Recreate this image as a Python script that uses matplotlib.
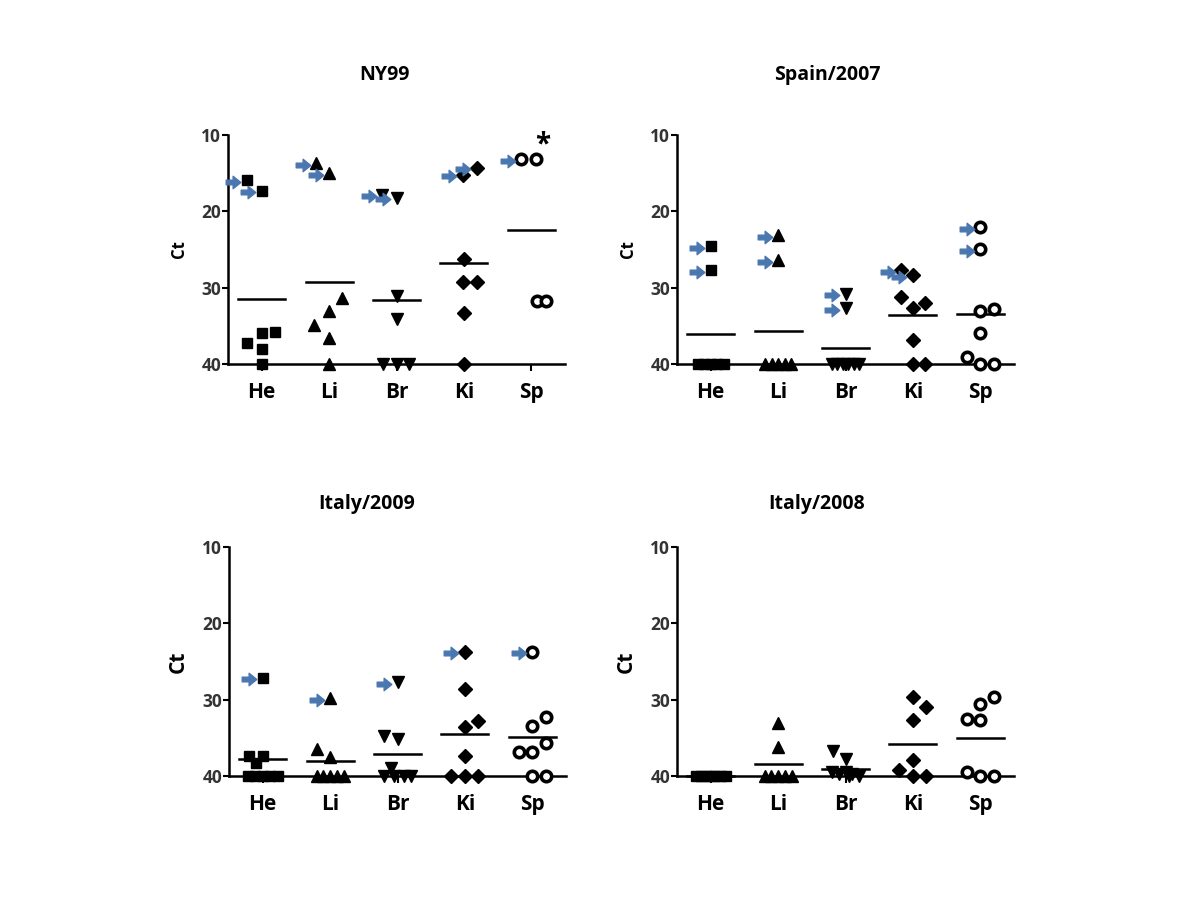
import numpy as np
import matplotlib
matplotlib.use("Agg")
import matplotlib.pyplot as plt
from matplotlib.path import Path

plt.rcParams['font.family'] = ['Open Sans', 'DejaVu Sans']
plt.rcParams['font.weight'] = 'bold'

organs = ["He", "Li", "Br", "Ki", "Sp"]
markers = ["s", "^", "v", "D", "o"]

# Ct values per organ (40 = not detected), horizontal jitter, arrowed points
ny99_vals = [[15.9, 17.3, 35.8, 35.9, 37.2, 38.0, 40.0],
             [13.7, 15.0, 31.4, 33.0, 34.9, 36.6, 40.0],
             [17.8, 18.2, 31.1, 34.1, 40.0, 40.0, 40.0],
             [15.2, 14.3, 26.3, 29.3, 29.3, 33.3, 40.0],
             [13.2, 13.2, 31.7, 31.7]]
ny99_dx = [[-0.22, 0.0, 0.2, 0.0, -0.22, 0.0, 0.0],
           [-0.19, 0.0, 0.19, 0.0, -0.22, 0.0, 0.0],
           [-0.21, 0.0, 0.0, 0.0, -0.2, 0.0, 0.19],
           [-0.02, 0.19, 0.0, -0.02, 0.19, 0.0, 0.0],
           [-0.15, 0.07, 0.09, 0.22]]
ny99_arrows = [[0, 1], [0, 1], [0, 1], [0, 1], [0]]

spain_vals = [[24.6, 27.7, 40, 40, 40, 40, 40],
              [23.1, 26.4, 40, 40, 40, 40, 40],
              [30.8, 32.7, 40, 40, 40, 40, 40, 40],
              [27.7, 28.4, 31.2, 32.6, 32.0, 36.9, 40, 40],
              [22.1, 25.0, 33.0, 32.8, 35.9, 39.1, 40, 40]]
spain_dx = [[0, 0, -0.19, -0.095, 0, 0.095, 0.19],
            [0, 0, -0.19, -0.095, 0, 0.095, 0.19],
            [0, 0, -0.2, -0.12, -0.04, 0.04, 0.12, 0.2],
            [-0.17, 0.0, -0.17, 0.0, 0.18, 0.0, 0.0, 0.18],
            [0, 0, 0, 0.2, 0, -0.19, 0, 0.2]]
spain_arrows = [[0, 1], [0, 1], [0, 1], [0, 1], [0, 1]]

it09_vals = [[27.1, 37.4, 37.4, 38.3, 40, 40, 40, 40, 40],
             [29.8, 36.5, 37.5, 40, 40, 40, 40, 40],
             [27.7, 34.8, 35.1, 38.9, 40, 40, 40, 40],
             [23.7, 28.6, 33.6, 32.8, 37.4, 40, 40, 40],
             [23.7, 33.4, 32.3, 36.9, 36.9, 35.7, 40, 40]]
it09_dx = [[0, -0.2, 0.0, -0.1, -0.22, -0.11, 0.0, 0.11, 0.22],
           [0, -0.2, 0, -0.2, -0.1, 0, 0.1, 0.2],
           [0, -0.2, 0, -0.1, -0.2, -0.05, 0.1, 0.2],
           [0, 0, 0, 0.2, 0, -0.2, 0, 0.2],
           [0, 0, 0.2, -0.2, 0, 0.2, 0, 0.2]]
it09_arrows = [[0], [0], [0], [0], [0]]

it08_vals = [[40, 40, 40, 40, 40, 40, 40],
             [33.1, 36.2, 40, 40, 40, 40, 40],
             [36.7, 37.8, 39.5, 39.7, 39.5, 39.7, 40, 40],
             [29.6, 31.0, 32.6, 37.9, 39.2, 40, 40],
             [29.7, 30.6, 32.5, 32.7, 39.5, 40, 40]]
it08_dx = [[-0.22, -0.15, -0.07, 0, 0.07, 0.15, 0.22],
           [0, 0, -0.2, -0.1, 0, 0.1, 0.2],
           [-0.19, 0.0, -0.2, -0.1, 0.0, 0.1, 0.2, 0.05],
           [0, 0.2, 0, 0, -0.2, 0, 0.2],
           [0.2, 0, -0.2, 0, -0.2, 0, 0.2]]
it08_arrows = [[], [], [], [], []]

panels = [("NY99", ny99_vals, ny99_dx, ny99_arrows),
          ("Spain/2007", spain_vals, spain_dx, spain_arrows),
          ("Italy/2009", it09_vals, it09_dx, it09_arrows),
          ("Italy/2008", it08_vals, it08_dx, it08_arrows)]

# block arrow marker pointing right
arrow_path = Path([(-1, -0.32), (-0.05, -0.32), (-0.05, -0.85), (1, 0),
                   (-0.05, 0.85), (-0.05, 0.32), (-1, 0.32), (-1, -0.32)],
                  [Path.MOVETO] + [Path.LINETO] * 6 + [Path.CLOSEPOLY])
arrow_color = "#4a77b0"

fig = plt.figure(figsize=(12, 9), dpi=100)

# axes boxes in pixels: left, top
boxes = [(228, 135), (677, 135), (229, 547), (677, 547)]
ax_w, ax_h = 337, 229
title_pos = [(384, 75), (827, 75), (367, 504), (817, 504)]
ct_size = [12, 12, 15, 15]

for i, (title, vals, dxs, arrows) in enumerate(panels):
    left, top = boxes[i]
    ax = fig.add_axes([left / 1200, 1 - (top + ax_h) / 900, ax_w / 1200, ax_h / 900])
    for k in range(5):
        v = np.array(vals[k], dtype=float)
        x = k + 1 + np.array(dxs[k])
        if markers[k] == "o":
            ax.plot(x, v, linestyle="none", marker="o", ms=7.5, mfc="white",
                    mec="black", mew=2.6, clip_on=False, zorder=3)
        else:
            ms = {"s": 7.5, "^": 8.5, "v": 8.5, "D": 7}[markers[k]]
            ax.plot(x, v, linestyle="none", marker=markers[k], ms=ms,
                    color="black", clip_on=False, zorder=3)
        # mean line
        ax.plot([k + 1 - 0.35, k + 1 + 0.35], [v.mean()] * 2, color="black",
                lw=1.8, zorder=2, clip_on=False)
        for j in arrows[k]:
            ax.plot(x[j] - 0.2, v[j] + 0.2, linestyle="none", marker=arrow_path,
                    ms=10.5, color=arrow_color, zorder=4, clip_on=False)

    ax.set_xlim(0.5, 5.5)
    ax.set_ylim(40, 10)
    ax.set_yticks([10, 20, 30, 40])
    ax.set_xticks(range(1, 6))
    ax.set_xticklabels(organs)
    for s in ["top", "right"]:
        ax.spines[s].set_visible(False)
    for s in ["left", "bottom"]:
        ax.spines[s].set_linewidth(1.8)
    ax.tick_params(axis="y", length=4, width=1.5, pad=1, labelsize=12.5,
                   labelcolor="#333333")
    ax.tick_params(axis="x", length=5, width=1.5, pad=8, labelsize=15)
    ax.set_ylabel("Ct", fontsize=ct_size[i], fontweight="bold")
    ax.yaxis.set_label_coords(-0.12, 0.5)
    tx, ty = title_pos[i]
    fig.text(tx / 1200, 1 - ty / 900, title, ha="center", va="center",
             fontsize=14, fontweight="bold")
    if i == 0:
        ax.text(5 + 0.17, 11.3, "*", ha="center", va="center", fontsize=20,
                fontweight="bold")

fig.savefig("out.png", dpi=100)
